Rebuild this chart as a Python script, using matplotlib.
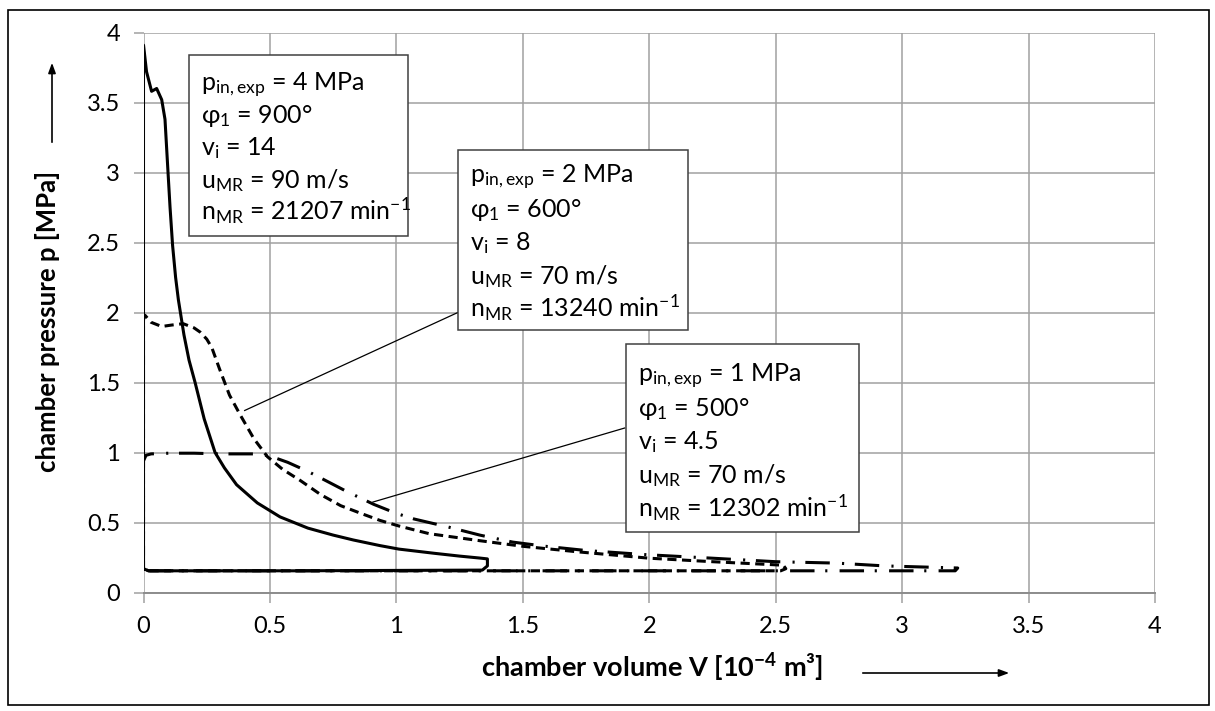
"""
plot.py - p-V diagram of the expander chamber for three operating points.
"""

import matplotlib
matplotlib.use("Agg")
import matplotlib.pyplot as plt
from matplotlib.patches import Rectangle

plt.rcParams["font.family"] = ["Lato", "DejaVu Sans"]
plt.rcParams["mathtext.fontset"] = "custom"
plt.rcParams["mathtext.rm"] = "Lato"
plt.rcParams["mathtext.bf"] = "Lato:bold"

# --- data (V in 1e-4 m^3, p in MPa) ----------------------------------------
# p_in,exp = 4 MPa (solid)
v_4mpa = [0.0, 0.0, 0.012, 0.032, 0.052, 0.072, 0.085, 0.097, 0.105, 0.115,
          0.127, 0.138, 0.16, 0.18, 0.204, 0.24, 0.283, 0.32, 0.368, 0.45,
          0.54, 0.65, 0.75, 0.83, 0.935, 1.01, 1.15, 1.25, 1.33, 1.36, 1.36,
          1.34, 0.6, 0.02, 0.0, 0.0]
p_4mpa = [0.17, 3.91, 3.72, 3.58, 3.60, 3.52, 3.38, 3.00, 2.75, 2.48,
          2.25, 2.09, 1.84, 1.66, 1.50, 1.24, 1.00, 0.89, 0.77, 0.64,
          0.54, 0.46, 0.41, 0.375, 0.335, 0.31, 0.28, 0.26, 0.246, 0.24,
          0.19, 0.16, 0.155, 0.155, 0.17, 0.17]

# p_in,exp = 2 MPa (dashed)
v_2mpa = [0.0, 0.0, 0.006, 0.03, 0.072, 0.11, 0.157, 0.2, 0.224, 0.25,
          0.27, 0.30, 0.34, 0.382, 0.436, 0.49, 0.55, 0.62, 0.70, 0.78,
          0.86, 0.935, 1.01, 1.13, 1.33, 1.5, 1.72, 2.0, 2.25, 2.53, 2.54,
          2.52, 1.4, 0.02, 0.0]
p_2mpa = [0.16, 1.95, 1.98, 1.93, 1.90, 1.91, 1.92, 1.89, 1.86, 1.81,
          1.75, 1.60, 1.41, 1.27, 1.10, 0.97, 0.88, 0.80, 0.70, 0.62,
          0.565, 0.515, 0.475, 0.42, 0.37, 0.33, 0.29, 0.245, 0.22, 0.195,
          0.17, 0.155, 0.155, 0.155, 0.17]

# p_in,exp = 1 MPa (dash-dot)
v_1mpa = [0.0, 0.0, 0.01, 0.03, 0.1, 0.2, 0.3, 0.4, 0.45, 0.5, 0.57,
          0.65, 0.72, 0.80, 0.91, 1.0, 1.07, 1.2, 1.33, 1.46, 1.59, 1.75,
          1.99, 2.25, 2.5, 2.74, 2.93, 3.22, 3.21, 1.6, 0.02, 0.0]
p_1mpa = [0.16, 0.94, 0.98, 0.99, 0.995, 0.995, 0.99, 0.99, 0.99, 0.975,
          0.93, 0.865, 0.80, 0.725, 0.63, 0.565, 0.525, 0.47, 0.41, 0.36,
          0.33, 0.30, 0.27, 0.245, 0.22, 0.21, 0.19, 0.175, 0.155, 0.155,
          0.155, 0.17]

x_ticks = [0, 0.5, 1, 1.5, 2, 2.5, 3, 3.5, 4]
y_ticks = [0, 0.5, 1, 1.5, 2, 2.5, 3, 3.5, 4]
x_ticklabels = ["0", "0.5", "1", "1.5", "2", "2.5", "3", "3.5", "4"]
y_ticklabels = ["0", "0.5", "1", "1.5", "2", "2.5", "3", "3.5", "4"]

box_lines = [
    [r"p$\mathregular{_{in,exp}}$ = 4 MPa", r"φ$\mathregular{_1}$ = 900°",
     r"v$\mathregular{_i}$ = 14", r"u$\mathregular{_{MR}}$ = 90 m/s",
     r"n$\mathregular{_{MR}}$ = 21207 min$\mathregular{^{-1}}$"],
    [r"p$\mathregular{_{in,exp}}$ = 2 MPa", r"φ$\mathregular{_1}$ = 600°",
     r"v$\mathregular{_i}$ = 8", r"u$\mathregular{_{MR}}$ = 70 m/s",
     r"n$\mathregular{_{MR}}$ = 13240 min$\mathregular{^{-1}}$"],
    [r"p$\mathregular{_{in,exp}}$ = 1 MPa", r"φ$\mathregular{_1}$ = 500°",
     r"v$\mathregular{_i}$ = 4.5", r"u$\mathregular{_{MR}}$ = 70 m/s",
     r"n$\mathregular{_{MR}}$ = 12302 min$\mathregular{^{-1}}$"],
]

# box extents (left, top, right, bottom) in data units, text layout in px
box_extent = [(0.18, 3.84, 1.045, 2.55),
              (1.243, 3.16, 2.152, 1.875),
              (1.907, 1.775, 2.83, 0.43)]
box_text = [(36, 32.3), (33, 33.5), (38, 33.7)]
leaders = [None,
           ((1.243, 2.0), (0.40, 1.30)),
           ((1.903, 1.175), (0.907, 0.646))]

# --- figure -----------------------------------------------------------------
W, H = 1215, 711
fig = plt.figure(figsize=(W / 100, H / 100), dpi=100)
ax = fig.add_axes([143.5 / W, 1 - 592.5 / H, (1155 - 143.5) / W,
                   (592.5 - 32.5) / H])

grid_c = "#a0a0a0"
lw = 2.2
ax.plot(v_4mpa, p_4mpa, color="black", lw=lw, solid_joinstyle="round")
ax.plot(v_2mpa, p_2mpa, color="black", lw=lw, linestyle=(0, (3.0, 1.8)))
ax.plot(v_1mpa, p_1mpa, color="black", lw=lw,
        linestyle=(0, (8, 4, 0.7, 3.5)))

ax.set_xlim(0, 4)
ax.set_ylim(0, 4)
ax.set_xticks(x_ticks)
ax.set_xticklabels(x_ticklabels)
ax.set_yticks(y_ticks)
ax.set_yticklabels(y_ticklabels)
ax.grid(True, color=grid_c, lw=1.1)
ax.set_axisbelow(True)
for s in ("top", "right", "left"):
    ax.spines[s].set_visible(False)
ax.spines["bottom"].set_color("#8c8c8c")
ax.spines["bottom"].set_linewidth(1.4)
ax.tick_params(axis="both", direction="out", length=7, width=1.1,
               color=grid_c, labelsize=17, pad=10)

for lines, (x0, y0, x1, y1), (off, step), lead in zip(
        box_lines, box_extent, box_text, leaders):
    if lead is not None:
        ax.plot([lead[0][0], lead[1][0]], [lead[0][1], lead[1][1]],
                color="black", lw=0.9, zorder=4)
    ax.add_patch(Rectangle((x0, y1), x1 - x0, y0 - y1, fc="white",
                           ec="#404040", lw=1.1, zorder=5))
    for i, s in enumerate(lines):
        ax.annotate(s, xy=(x0, y0), xycoords="data",
                    xytext=(12, -(off + i * step)),
                    textcoords="offset pixels",
                    fontsize=18, va="baseline", ha="left", zorder=6)

# axis labels and arrows in figure pixels
fig.text(48 / W, 1 - 321 / H, "chamber pressure p [MPa]", rotation=90,
         ha="center", va="center", fontsize=18.5, fontweight="bold")
fig.text(652 / W, 1 - 668 / H, r"chamber volume V [10$\mathbf{^{-4}}$ m³]",
         ha="center", va="center", fontsize=19.5, fontweight="bold")
arrow = dict(arrowstyle="-|>,head_length=0.6,head_width=0.22",
             color="black", lw=1.2)
fig.add_artist(plt.Annotation("", xy=(52 / W, 1 - 60 / H),
                              xytext=(52 / W, 1 - 145 / H),
                              xycoords="figure fraction",
                              arrowprops=arrow))
fig.add_artist(plt.Annotation("", xy=(1012 / W, 1 - 673 / H),
                              xytext=(860 / W, 1 - 673 / H),
                              xycoords="figure fraction",
                              arrowprops=arrow))

# outer frame
fig.add_artist(Rectangle((8 / W, 1 - 705 / H), (1209 - 8) / W,
                         (705 - 10) / H, transform=fig.transFigure,
                         fill=False, ec="black", lw=1.2))

fig.savefig("out.png", dpi=100)
